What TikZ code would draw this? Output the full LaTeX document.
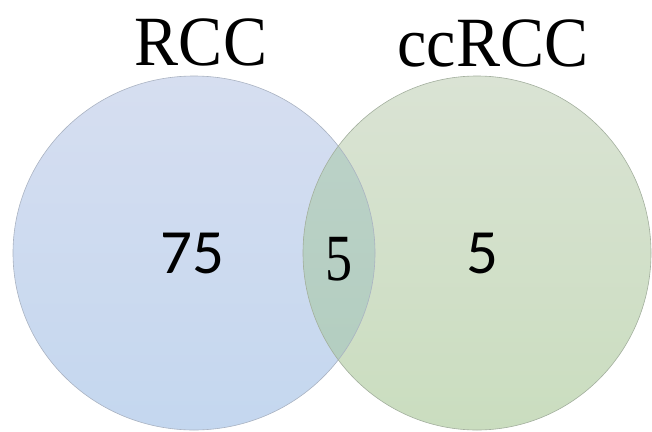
\documentclass[tikz,border=0pt]{standalone}
\usepackage{fontspec}
\setmainfont{Liberation Serif}
\newfontfamily\numfont{Carlito}
\usepackage{graphicx}
\definecolor{blueTop}{HTML}{D6DEF0}
\definecolor{blueBot}{HTML}{C4D7EF}
\definecolor{greenTop}{HTML}{DAE3D4}
\definecolor{greenBot}{HTML}{CADDBF}
\definecolor{mixTop}{HTML}{BDD2C9}
\definecolor{mixBot}{HTML}{B1CDBE}
\definecolor{blueEdge}{HTML}{AAB3C2}
\definecolor{greenEdge}{HTML}{A3AF9E}
\tikzset{
  title/.style={font=\fontsize{66}{70}\selectfont, anchor=base, inner sep=0pt},
  count/.style={font=\numfont\fontsize{63}{66}\selectfont, anchor=base, inner sep=0pt},
  midcount/.style={font=\fontsize{66}{70}\selectfont, anchor=base, inner sep=0pt},
}
\begin{document}
\begin{tikzpicture}[x=1pt,y=-1pt]
  \useasboundingbox (0,0) rectangle (652,431);
  % set A: RCC
  \shade[top color=blueTop, bottom color=blueBot]
    (194,253) ellipse [x radius=181, y radius=177];
  % set B: ccRCC
  \shade[top color=greenTop, bottom color=greenBot]
    (477,253) ellipse [x radius=174, y radius=177];
  % overlap of A and B
  \begin{scope}
    \clip (194,253) ellipse [x radius=181, y radius=177];
    \shade[top color=mixTop, bottom color=mixBot]
      (477,253) ellipse [x radius=174, y radius=177];
  \end{scope}
  % outlines
  \draw[blueEdge, line width=0.6pt] (194,253) ellipse [x radius=181, y radius=177];
  \draw[greenEdge, line width=0.6pt] (477,253) ellipse [x radius=174, y radius=177];
  % labels
  \node[title] (tA) at (201,65) {\scalebox{1}[1.07]{RCC}};
  \node[title] (tB) at (493,66) {\scalebox{1}[1.07]{ccRCC}};
  \node[count] (nA) at (192,273) {75};
  \node[midcount] (nAB) at (339,280) {\scalebox{0.82}[1]{5}};
  \node[count] (nB) at (482,273) {5};
\end{tikzpicture}
\end{document}
